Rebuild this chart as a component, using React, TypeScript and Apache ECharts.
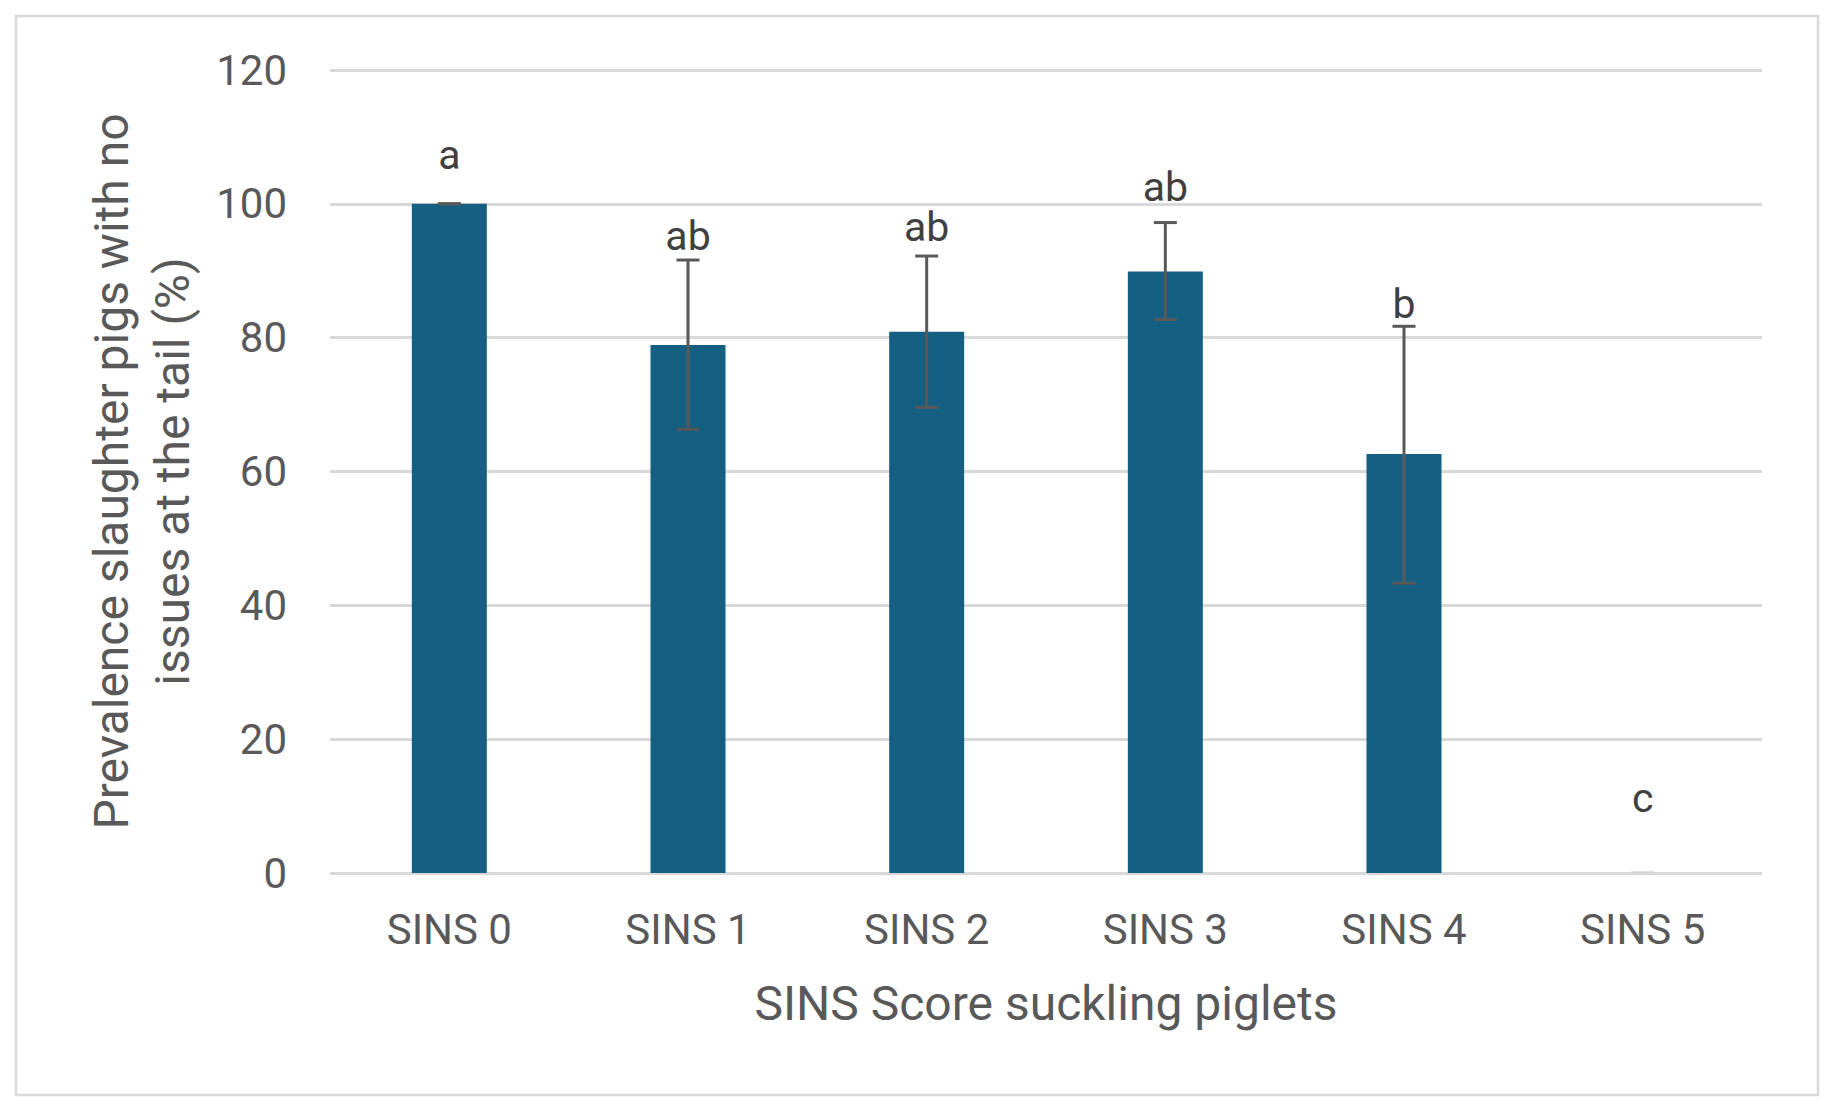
import React, { useEffect, useRef } from "react";
import * as echarts from "echarts";

const categories = ["SINS 0", "SINS 1", "SINS 2", "SINS 3", "SINS 4", "SINS 5"];
const prevalence = [100, 78.9, 80.9, 89.9, 62.6, 0];
const errLow = [100, 66.3, 69.6, 82.7, 43.3, 0];
const errHigh = [100, 91.6, 92.2, 97.2, 81.7, 0];
const letters = ["a", "ab", "ab", "ab", "b", "c"];
const letterY = [107.3, 95.2, 96.6, 102.5, 85.0, 11.2];
const yTicks = [0, 20, 40, 60, 80, 100, 120];

const FONT = "Roboto, 'Liberation Sans', sans-serif";

export default function App() {
  const ref = useRef<HTMLDivElement>(null);

  useEffect(() => {
    if (!ref.current) return;
    const chart = echarts.init(ref.current, null, { renderer: "svg" });

    const errData = categories.map((_, i) => [i, errLow[i], errHigh[i], prevalence[i]]);
    const letterData = categories.map((_, i) => [i, letterY[i], letters[i]]);

    chart.setOption({
      animation: false,
      backgroundColor: "#ffffff",
      textStyle: { fontFamily: FONT },
      graphic: [
        {
          type: "rect",
          shape: { x: 16, y: 16, width: 1802, height: 1079 },
          style: { fill: "none", stroke: "#d9d9d9", lineWidth: 2.5 },
          silent: true,
        },
      ],
      grid: { left: 330, right: 71, top: 70, bottom: 239, containLabel: false },
      xAxis: {
        type: "category",
        data: categories,
        axisLine: { show: false },
        axisTick: { show: false },
        axisLabel: {
          color: "#595959",
          fontSize: 42,
          lineHeight: 42,
          margin: 35,
          fontFamily: FONT,
        },
        name: "SINS Score suckling piglets",
        nameLocation: "middle",
        nameGap: 106,
        nameTextStyle: { color: "#595959", fontSize: 48, lineHeight: 48, fontFamily: FONT },
      },
      yAxis: {
        type: "value",
        min: yTicks[0],
        max: yTicks[yTicks.length - 1],
        interval: 20,
        axisLine: { show: false },
        axisTick: { show: false },
        splitLine: { lineStyle: { color: "#d9d9d9", width: 3 } },
        axisLabel: {
          color: "#595959",
          fontSize: 42,
          margin: 43,
          fontFamily: FONT,
        },
        name: "Prevalence slaughter pigs with no\nissues at the tail (%)",
        nameLocation: "middle",
        nameRotate: 90,
        nameGap: 127,
        nameTextStyle: {
          color: "#595959",
          fontSize: 48,
          lineHeight: 61,
          align: "center",
          fontFamily: FONT,
        },
      },
      series: [
        {
          type: "bar",
          data: prevalence,
          barWidth: 75,
          itemStyle: { color: "#156082" },
          z: 2,
        },
        {
          type: "custom",
          data: errData,
          z: 3,
          renderItem: (params: any, api: any) => {
            const i = api.value(0);
            const lo = api.coord([i, api.value(1)]);
            const hi = api.coord([i, api.value(2)]);
            const v = api.value(3);
            const cap = 11.5;
            const color = v === 0 ? "#d6d6d6" : "#595959";
            const style = { stroke: color, lineWidth: 3 };
            return {
              type: "group",
              children: [
                { type: "line", shape: { x1: lo[0], y1: lo[1], x2: hi[0], y2: hi[1] }, style },
                { type: "line", shape: { x1: hi[0] - cap, y1: hi[1], x2: hi[0] + cap, y2: hi[1] }, style },
                { type: "line", shape: { x1: lo[0] - cap, y1: lo[1], x2: lo[0] + cap, y2: lo[1] }, style },
              ],
            };
          },
        },
        {
          type: "custom",
          data: letterData,
          z: 4,
          renderItem: (params: any, api: any) => {
            const i = api.value(0);
            const p = api.coord([i, api.value(1)]);
            return {
              type: "text",
              x: p[0],
              y: p[1],
              style: {
                text: letters[i],
                fill: "#404040",
                font: `41px ${FONT}`,
                align: "center",
                verticalAlign: "middle",
              },
            };
          },
        },
      ],
    });

    return () => chart.dispose();
  }, []);

  return (
    <div
      ref={ref}
      style={{ position: "fixed", left: 0, top: 0, width: 1833, height: 1112, background: "#fff" }}
    />
  );
}
